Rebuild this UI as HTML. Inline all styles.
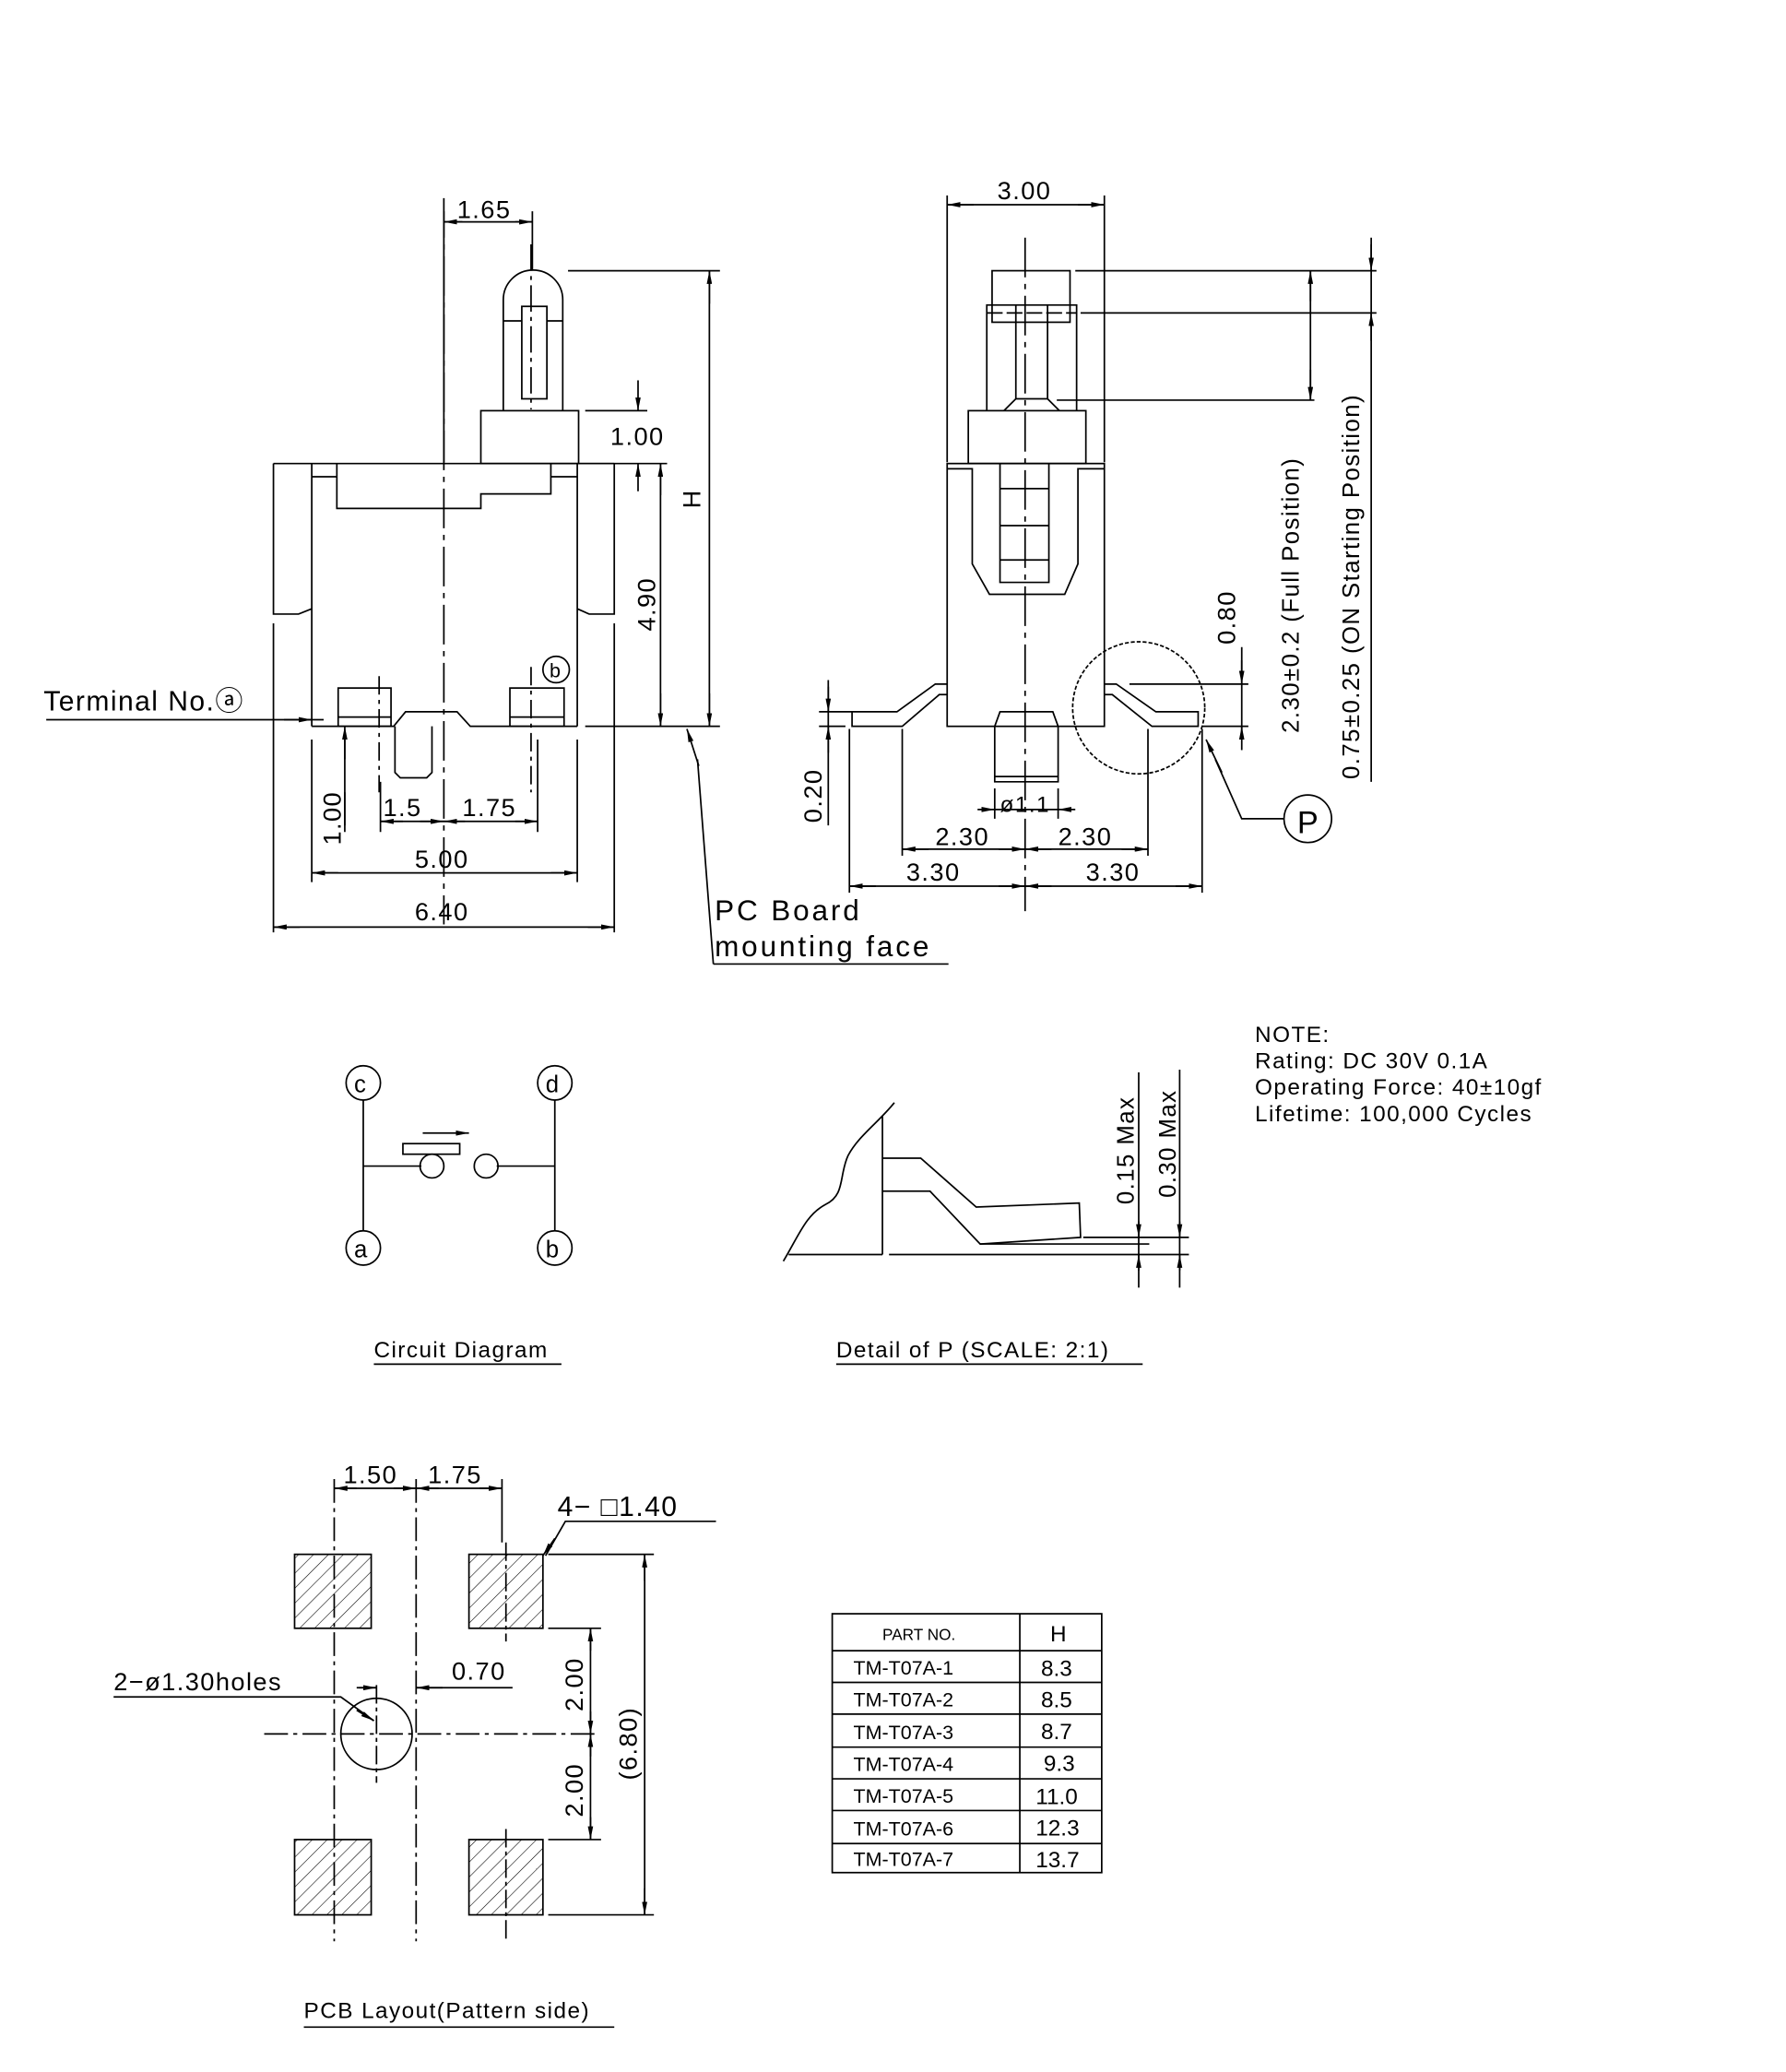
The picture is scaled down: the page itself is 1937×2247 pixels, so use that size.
<!DOCTYPE html>
<html><head><meta charset="utf-8"><style>
html,body{margin:0;padding:0;background:#fff;}
svg{display:block;}
text{font-family:"Liberation Sans",sans-serif;fill:#000;}
</style></head><body>
<svg width="1937" height="2247" viewBox="0 0 1352 1569" preserveAspectRatio="none" xmlns="http://www.w3.org/2000/svg">
<defs>
<marker id="a" viewBox="0 0 10 4" refX="10" refY="2" markerWidth="10" markerHeight="4" orient="auto" markerUnits="userSpaceOnUse"><path d="M0,0L10,2L0,4z" fill="#000"/></marker>
<pattern id="h" patternUnits="userSpaceOnUse" width="8" height="8" patternTransform="rotate(45)"><line x1="0" y1="0" x2="0" y2="8" stroke="#000" stroke-width="0.8"/></pattern>
</defs>
<g fill="none" stroke="#000" stroke-width="1.2">
<!-- LEFT VIEW -->
<path d="M381,311V227A22,22 0 0 1 426,227V311"/>
<rect x="395" y="232" width="19" height="70"/>
<path d="M381,243H395M414,243H426"/>
<rect x="364" y="311" width="74" height="40"/>
<path d="M207,351H465M207,351V465H226L236,461M465,351V465H446L437,461M236,351V550M437,351V550M236,361H255M417,361H437"/>
<path d="M255,351V385H364V374H417V351"/>
<path d="M236,550H298L307,539H346L356,550H437"/>
<rect x="256" y="521" width="40" height="29"/><path d="M256,543H296"/>
<rect x="386" y="521" width="41" height="29"/><path d="M386,543H427"/>
<path d="M299,550V585L303,589H323L327,585V550"/>
<path d="M336,150V700" stroke-dasharray="30,5,4,5"/>
<path d="M402,185V310" stroke-dasharray="20,4,3,4"/>
<path d="M287,512V600" stroke-dasharray="14,4,3,4"/>
<path d="M402,505V600" stroke-dasharray="14,4,3,4"/>
<circle cx="421" cy="507" r="10"/>
<!-- dims left -->
<path d="M403,160V205M336,160V350"/>
<path d="M350,168H336" marker-end="url(#a)"/><path d="M390,168H403" marker-end="url(#a)"/><path d="M336,168H403"/>
<path d="M430,205H545M443,550H545"/>
<path d="M537,205V550" /><path d="M537,230V205" marker-end="url(#a)"/><path d="M537,525V550" marker-end="url(#a)"/>
<path d="M443,311H490M438,351H505"/>
<path d="M483,288V311" marker-end="url(#a)"/><path d="M483,372V351" marker-end="url(#a)"/>
<path d="M500,351V550"/><path d="M500,375V351" marker-end="url(#a)"/><path d="M500,525V550" marker-end="url(#a)"/>
<path d="M35,545H245M225,545H236" /><path d="M215,545H236" marker-end="url(#a)"/>
<path d="M261,560V630M207,472V706M465,472V706M236,560V668M437,560V668M288,592V630M407,560V630"/>
<path d="M261,575V550" marker-end="url(#a)"/><path d="M261,600V625"/>
<path d="M288,622H407"/><path d="M305,622H288" marker-end="url(#a)"/><path d="M318,622H336" marker-end="url(#a)"/><path d="M352,622H336" marker-end="url(#a)"/><path d="M390,622H407" marker-end="url(#a)"/>
<path d="M236,661H437"/><path d="M256,661H236" marker-end="url(#a)"/><path d="M417,661H437" marker-end="url(#a)"/>
<path d="M207,702H465"/><path d="M227,702H207" marker-end="url(#a)"/><path d="M445,702H465" marker-end="url(#a)"/>
<path d="M540,730L528,575"/><path d="M529,580L520,552" marker-end="url(#a)"/><path d="M540,730H718"/>
<!-- RIGHT VIEW -->
<rect x="751" y="205" width="59" height="39"/>
<path d="M747,311V231H815V311"/>
<path d="M769,231V302H793V231M769,302L760,311M793,302L802,311"/>
<path d="M747,237H815" stroke-dasharray="12,3"/>
<rect x="733" y="311" width="89" height="40"/>
<rect x="717" y="351" width="119" height="199"/>
<path d="M717,355H736V427L749,450H806L816,427V355H836"/>
<path d="M757,351V441H794V351M757,370H794M757,398H794M757,424H794"/>
<path d="M753,550V592H801V550M753,550L757,539H797L801,550M753,588H801"/>
<path d="M776,180V690" stroke-dasharray="30,5,4,5"/>
<path d="M836,518H845L875,539H907V550H872L842,526H836"/>
<path d="M717,518H708L679,539H645V550H683L711,526H717"/>
<circle cx="862" cy="536" r="50" stroke-dasharray="3,1.5"/>
<circle cx="990" cy="620" r="18"/>
<path d="M972,620H940L920,575"/><path d="M925,585L913,560" marker-end="url(#a)"/>
<!-- right dims -->
<path d="M717,148V350M836,148V350M717,155H836"/><path d="M737,155H717" marker-end="url(#a)"/><path d="M816,155H836" marker-end="url(#a)"/>
<path d="M814,205H1042M818,237H1042M800,303H995"/>
<path d="M992,205V303"/><path d="M992,228V205" marker-end="url(#a)"/><path d="M992,280V303" marker-end="url(#a)"/>
<path d="M1038,180V592"/><path d="M1038,185V205" marker-end="url(#a)"/><path d="M1038,258V237" marker-end="url(#a)"/>
<path d="M855,518H945M910,550H945M940,490V560"/><path d="M940,500V518" marker-end="url(#a)"/><path d="M940,568V550" marker-end="url(#a)"/>
<path d="M620,539H645M620,550H640M627,515V625"/><path d="M627,520V539" marker-end="url(#a)"/><path d="M627,570V550" marker-end="url(#a)"/>
<path d="M753,597V620M801,597V620M753,613H801"/><path d="M740,613H753" marker-end="url(#a)"/><path d="M814,613H801" marker-end="url(#a)"/>
<path d="M683,552V648M869,552V648M643,552V676M910,552V676"/>
<path d="M683,643H869"/><path d="M703,643H683" marker-end="url(#a)"/><path d="M756,643H776" marker-end="url(#a)"/><path d="M796,643H776" marker-end="url(#a)"/><path d="M849,643H869" marker-end="url(#a)"/>
<path d="M643,671H910"/><path d="M663,671H643" marker-end="url(#a)"/><path d="M756,671H776" marker-end="url(#a)"/><path d="M796,671H776" marker-end="url(#a)"/><path d="M890,671H910" marker-end="url(#a)"/>
<!-- CIRCUIT -->
<circle cx="275" cy="820" r="13"/><circle cx="420" cy="820" r="13"/><circle cx="275" cy="945" r="13"/><circle cx="420" cy="945" r="13"/>
<path d="M275,833V932M420,833V932M275,883H319M376,883H420"/>
<circle cx="327" cy="883" r="9"/><circle cx="368" cy="883" r="9"/>
<rect x="305" y="866" width="43" height="8"/>
<path d="M320,858H355" marker-end="url(#a)"/>
<path d="M283,1033H425M633,1033H865"/>
<!-- DETAIL P -->
<path d="M677,835C665,850 650,860 642,875C635,890 640,905 625,912C610,920 605,935 593,955"/>
<path d="M668,845V950M597,950H668M673,950H900"/>
<path d="M668,877H697L739,914L817,911L818,937L742,942L704,902H668"/>
<path d="M742,942H870M820,937H900"/>
<path d="M862,812V975M893,810V975"/>
<path d="M862,925V937" marker-end="url(#a)"/><path d="M862,962V950" marker-end="url(#a)"/>
<path d="M893,925V937" marker-end="url(#a)"/><path d="M893,962V950" marker-end="url(#a)"/>
<!-- PCB -->
<rect x="223" y="1177" width="58" height="56" fill="url(#h)"/><rect x="355" y="1177" width="56" height="56" fill="url(#h)"/>
<rect x="223" y="1393" width="58" height="57" fill="url(#h)"/><rect x="355" y="1393" width="56" height="57" fill="url(#h)"/>
<circle cx="285" cy="1313" r="27"/>
<path d="M253,1120V1470M315,1120V1470" stroke-dasharray="18,4,3,4"/>
<path d="M200,1313H450" stroke-dasharray="18,4,3,4"/>
<path d="M285,1276V1350M383,1168V1243M383,1385V1470" stroke-dasharray="14,3,3,3"/>
<path d="M380,1120V1168"/>
<path d="M253,1127H315M315,1127H380"/><path d="M270,1127H253" marker-end="url(#a)"/><path d="M298,1127H315" marker-end="url(#a)"/><path d="M332,1127H315" marker-end="url(#a)"/><path d="M363,1127H380" marker-end="url(#a)"/>
<path d="M542,1152H428L413,1178"/><path d="M420,1165L411,1178" marker-end="url(#a)"/>
<path d="M86,1285H258L283,1303"/><path d="M270,1295L283,1303" marker-end="url(#a)"/>
<path d="M270,1278H285"/><path d="M272,1278H285" marker-end="url(#a)"/><path d="M335,1278H315" marker-end="url(#a)"/><path d="M315,1278H388"/>
<path d="M415,1233H455M415,1393H455M415,1177H495M415,1450H495"/>
<path d="M447,1233V1393"/><path d="M447,1250V1233" marker-end="url(#a)"/><path d="M447,1296V1313" marker-end="url(#a)"/><path d="M447,1330V1313" marker-end="url(#a)"/><path d="M447,1376V1393" marker-end="url(#a)"/>
<path d="M488,1177V1450"/><path d="M488,1197V1177" marker-end="url(#a)"/><path d="M488,1430V1450" marker-end="url(#a)"/>
<path d="M230,1535H465"/>
<!-- TABLE -->
<rect x="630" y="1222" width="204" height="196"/>
<path d="M772,1222V1418M630,1250H834M630,1274H834M630,1298H834M630,1323H834M630,1347H834M630,1371H834M630,1396H834"/>
</g>
<g font-size="19" letter-spacing="1">
<text x="346" y="165">1.65</text>
<text x="462" y="337">1.00</text>
<text transform="translate(530,385) rotate(-90)">H</text>
<text transform="translate(496,478) rotate(-90)">4.90</text>
<text x="33" y="538" font-size="21">Terminal No.ⓐ</text>
<text x="416" y="513" font-size="15" letter-spacing="0">b</text>
<text transform="translate(258,640) rotate(-90)">1.00</text>
<text x="290" y="618">1.5</text><text x="350" y="618">1.75</text>
<text x="314" y="657">5.00</text>
<text x="314" y="697">6.40</text>
<text x="541" y="697" font-size="22" letter-spacing="2">PC  Board</text>
<text x="541" y="724" font-size="22" letter-spacing="2">mounting  face</text>
<text x="755" y="151">3.00</text>
<text transform="translate(983,555) rotate(-90)" font-size="18">2.30±0.2 (Full Position)</text>
<text transform="translate(1029,590) rotate(-90)" font-size="18">0.75±0.25 (ON Starting Position)</text>
<text transform="translate(935,488) rotate(-90)">0.80</text>
<text transform="translate(622,623) rotate(-90)">0.20</text>
<text x="757" y="615" font-size="17">ø1.1</text>
<text x="708" y="640">2.30</text><text x="801" y="640">2.30</text>
<text x="686" y="667">3.30</text><text x="822" y="667">3.30</text>
<text x="982" y="631" font-size="24" font-family="Liberation Serif">P</text>
<text x="950" y="789" font-size="17">NOTE:</text>
<text x="950" y="809" font-size="17">Rating:  DC  30V  0.1A</text>
<text x="950" y="829" font-size="17">Operating  Force:  40±10gf</text>
<text x="950" y="849" font-size="17">Lifetime:  100,000  Cycles</text>
<text x="268" y="827" font-size="18">c</text><text x="413" y="827" font-size="18">d</text>
<text x="268" y="952" font-size="18">a</text><text x="413" y="952" font-size="18">b</text>
<text x="283" y="1028" font-size="17">Circuit  Diagram</text>
<text x="633" y="1028" font-size="17">Detail  of  P  (SCALE:  2:1)</text>
<text transform="translate(858,912) rotate(-90)" font-size="18">0.15  Max</text>
<text transform="translate(890,907) rotate(-90)" font-size="18">0.30  Max</text>
<text x="260" y="1123">1.50</text><text x="324" y="1123">1.75</text>
<text x="422" y="1148" font-size="21">4− □1.40</text>
<text x="86" y="1280" font-size="19">2−ø1.30holes</text>
<text x="342" y="1272">0.70</text>
<text transform="translate(441,1296) rotate(-90)">2.00</text>
<text transform="translate(441,1376) rotate(-90)">2.00</text>
<text transform="translate(482,1348) rotate(-90)">(6.80)</text>
<text x="230" y="1528" font-size="17">PCB  Layout(Pattern  side)</text>
</g>
<g font-size="17" letter-spacing="0">
<text x="668" y="1242" font-size="12">PART  NO.</text><text x="795" y="1243">H</text>
<text x="646" y="1268" font-size="15">TM-T07A-1</text><text x="788" y="1269">8.3</text>
<text x="646" y="1292" font-size="15">TM-T07A-2</text><text x="788" y="1293">8.5</text>
<text x="646" y="1317" font-size="15">TM-T07A-3</text><text x="788" y="1317">8.7</text>
<text x="646" y="1341" font-size="15">TM-T07A-4</text><text x="790" y="1341">9.3</text>
<text x="646" y="1365" font-size="15">TM-T07A-5</text><text x="784" y="1366">11.0</text>
<text x="646" y="1390" font-size="15">TM-T07A-6</text><text x="784" y="1390">12.3</text>
<text x="646" y="1413" font-size="15">TM-T07A-7</text><text x="784" y="1414">13.7</text>
</g>
</svg>
</body></html>
